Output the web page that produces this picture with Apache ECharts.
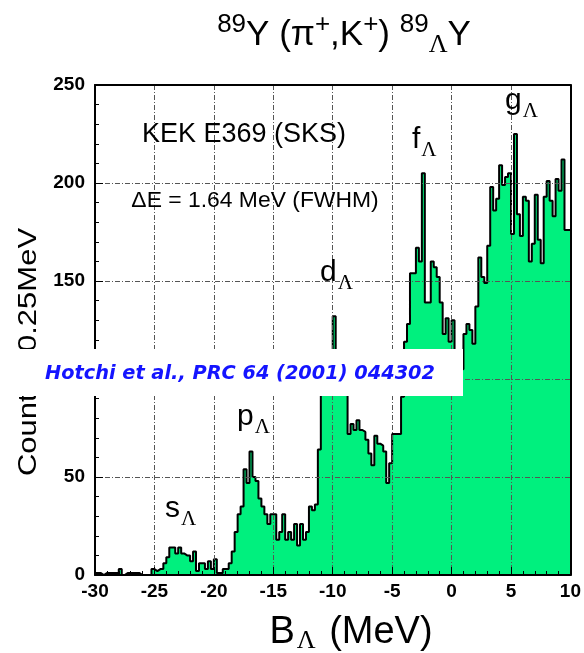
<!DOCTYPE html>
<html>
<head>
<meta charset="utf-8">
<script src="https://cdn.jsdelivr.net/npm/echarts@6/dist/echarts.min.js"></script>
<style>
  html, body { margin: 0; padding: 0; background: #fff; }
  #chart { width: 584px; height: 653px; }
</style>
</head>
<body>
<div id="chart"></div>
<script>
// Binding-energy histogram, 0.25 MeV bins from -30 to +10 MeV
const E_MIN = -30;
const E_MAX = 10;
const BIN_WIDTH = 0.25;

// counts per bin (160 bins)
const counts = [
  1, 1, 0, 1, 1, 1, 1, 1, 3, 0,
  1, 1, 1, 1, 1, 0, 0, 0, 0, 3,
  2, 3, 3, 6, 9, 14, 14, 11, 14, 11,
  10, 10, 7, 12, 2, 6, 6, 3, 7, 3,
  8, 1, 1, 3, 3, 6, 12, 22, 31, 35,
  54, 47, 63, 50, 48, 39, 35, 31, 26, 31,
  31, 18, 22, 31, 18, 22, 18, 26, 15, 26,
  18, 22, 35, 33, 36, 64, 100, 105, 108, 110,
  132, 112, 108, 104, 100, 72, 77, 74, 79, 74,
  73, 69, 62, 56, 71, 67, 66, 63, 47, 57,
  72, 72, 72, 91, 119, 128, 154, 154, 167, 160,
  205, 139, 139, 160, 157, 152, 139, 123, 131, 119,
  130, 110, 100, 105, 123, 128, 125, 118, 137, 162,
  152, 149, 168, 198, 186, 192, 209, 199, 203, 205,
  174, 225, 184, 173, 193, 191, 160, 169, 194, 171,
  159, 193, 201, 191, 183, 202, 196, 212, 176, 176
];

const xTickStep = 5;
const yTickStep = 50;
const yMax = 250;

const titleText = '{sup|89}{big|Y (π}{sup|+}{big|,K}{sup|+}{big|) }{sup|89}{sub|Λ}{big|Y}';
const xAxisTitle = '{big|B}{sub|Λ}{big| (MeV)}';
const yAxisTitle = 'Counts / 0.25MeV';
const experimentText = 'KEK E369 (SKS)';
const resolutionText = 'ΔE = 1.64 MeV (FWHM)';
const referenceText = 'Hotchi et al., PRC 64 (2001) 044302';
const shellLabels = ['s', 'p', 'd', 'f', 'g'];

// step outline: each point is the left edge of a bin, plus the closing right edge
const stepData = counts.map((c, i) => [E_MIN + i * BIN_WIDTH, c]);
stepData.push([E_MAX, counts[counts.length - 1]]);

const SANS = '"Liberation Sans", Arial, Helvetica, sans-serif';
const SERIF = '"Liberation Serif", "Times New Roman", serif';
const REF_FONT = 'italic bold 20px "DejaVu Sans", sans-serif';

// stretch the citation so it spans its box
const measureCtx = document.createElement('canvas').getContext('2d');
measureCtx.font = REF_FONT;
const refScale = 390 / measureCtx.measureText(referenceText).width;

const chart = echarts.init(document.getElementById('chart'), null, { renderer: 'canvas' });

const gridLine = { show: true, lineStyle: { color: '#555', width: 1, type: [5, 2, 1, 2] } };

function shellLabel(letter, x, y) {
  return {
    type: 'text', x: x, y: y, z: 50,
    style: {
      text: '{l|' + letter + '}{s|Λ}',
      rich: {
        l: { fontSize: 30, fontFamily: SANS, lineHeight: 36, verticalAlign: 'top', padding: [0, 0, 8, 0], fill: '#000' },
        s: { fontSize: 21, fontFamily: SERIF, verticalAlign: 'bottom', fill: '#000', padding: [0, 0, 0, 1] }
      },
      verticalAlign: 'top'
    }
  };
}

const option = {
  animation: false,
  backgroundColor: '#fff',
  grid: { left: 95, right: 13, top: 85, bottom: 78, containLabel: false },
  xAxis: [{
    type: 'value', min: E_MIN, max: E_MAX, interval: xTickStep, z: 5,
    axisLine: { show: true, onZero: false, lineStyle: { color: '#000', width: 2 } },
    axisTick: { show: true, inside: true, length: 8, lineStyle: { color: '#000', width: 1 } },
    minorTick: { show: true, splitNumber: 5, length: 4, lineStyle: { color: '#000', width: 1 } },
    splitLine: gridLine,
    axisLabel: { color: '#000', fontSize: 19, fontWeight: 'bold', fontFamily: SANS, margin: 7 }
  }, {
    type: 'value', min: E_MIN, max: E_MAX, position: 'top', z: 6,
    axisLine: { show: true, onZero: false, lineStyle: { color: '#000', width: 2 } },
    axisTick: { show: false }, axisLabel: { show: false }, splitLine: { show: false }
  }],
  yAxis: [{
    type: 'value', min: 0, max: yMax, interval: yTickStep, z: 5,
    axisLine: { show: true, onZero: false, lineStyle: { color: '#000', width: 2 } },
    axisTick: { show: true, inside: true, length: 8, lineStyle: { color: '#000', width: 1 } },
    minorTick: { show: true, splitNumber: 5, length: 4, lineStyle: { color: '#000', width: 1 } },
    splitLine: gridLine,
    axisLabel: { color: '#000', fontSize: 19, fontWeight: 'bold', fontFamily: SANS, margin: 10 }
  }, {
    type: 'value', min: 0, max: yMax, position: 'right', z: 6,
    axisLine: { show: true, onZero: false, lineStyle: { color: '#000', width: 2 } },
    axisTick: { show: false }, axisLabel: { show: false }, splitLine: { show: false }
  }],
  series: [{
    type: 'line',
    step: 'end',
    data: stepData,
    xAxisIndex: 0, yAxisIndex: 0,
    symbol: 'none',
    z: 2,
    lineStyle: { color: '#000', width: 2 },
    areaStyle: { color: '#00f07e', opacity: 1 }
  }],
  graphic: [
    // title
    {
      type: 'text', x: 344, y: 12, z: 50,
      style: {
        text: titleText, align: 'center', verticalAlign: 'top',
        rich: {
          big: { fontSize: 35, fontFamily: SANS, lineHeight: 46, fill: '#000' },
          sup: { fontSize: 26, fontFamily: SANS, verticalAlign: 'top', fill: '#000' },
          sub: { fontSize: 26, fontFamily: SERIF, verticalAlign: 'bottom', fill: '#000' }
        }
      }
    },
    // x axis title
    {
      type: 'text', x: 351, y: 612, z: 50,
      style: {
        text: xAxisTitle, align: 'center', verticalAlign: 'top',
        rich: {
          big: { fontSize: 38, fontFamily: SANS, lineHeight: 42, fill: '#000' },
          sub: { fontSize: 26, fontFamily: SERIF, verticalAlign: 'bottom', fill: '#000', padding: [0, 3, 0, 2] }
        }
      }
    },
    // y axis title
    {
      type: 'text', x: 29, y: 352, rotation: Math.PI / 2, scaleX: 1.24, z: 40,
      style: {
        text: yAxisTitle, align: 'center', verticalAlign: 'middle',
        font: '25px ' + SANS, fill: '#000'
      }
    },
    // experiment annotations
    {
      type: 'text', x: 244, y: 135, z: 50,
      style: { text: experimentText, align: 'center', verticalAlign: 'middle', font: '27px ' + SANS, fill: '#000' }
    },
    {
      type: 'text', x: 255, y: 201, z: 50, scaleX: 1.04,
      style: { text: resolutionText, align: 'center', verticalAlign: 'middle', font: '22px ' + SANS, fill: '#000' }
    },
    // shell labels
    shellLabel(shellLabels[0], 165, 494),
    shellLabel(shellLabels[1], 237, 402),
    shellLabel(shellLabels[2], 320, 258),
    shellLabel(shellLabels[3], 412, 125),
    shellLabel(shellLabels[4], 505, 86),
    // citation banner
    {
      type: 'rect', z: 90,
      shape: { x: 8, y: 349, width: 455, height: 47 },
      style: { fill: '#fff' }
    },
    {
      type: 'text', x: 45, y: 374, z: 91, scaleX: refScale,
      style: {
        text: referenceText, align: 'left', verticalAlign: 'middle',
        font: REF_FONT, fill: '#1414ff'
      }
    }
  ]
};

chart.setOption(option);
</script>
</body>
</html>
